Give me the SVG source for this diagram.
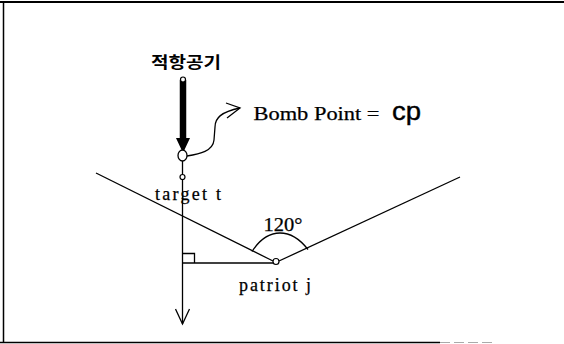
<svg xmlns="http://www.w3.org/2000/svg" width="564" height="344" viewBox="0 0 564 344">
<style>
.ln{fill:none;stroke:#000;stroke-width:1.3}
.tx{font-family:"Liberation Serif","DejaVu Serif",serif;fill:#000;stroke:#000;stroke-width:0.25}
.ko{font-family:"Noto Sans CJK KR",sans-serif;font-weight:bold;fill:#000}
.sn{font-family:"Liberation Sans",Arial,sans-serif;fill:#000;stroke:#000;stroke-width:0.4}
</style>
<defs>
<marker id="vhead" markerWidth="16" markerHeight="20" refX="8" refY="17" orient="0" markerUnits="userSpaceOnUse">
<path d="M1,2 L8,17 L15,2" fill="none" stroke="#000" stroke-width="1.3"/>
</marker>
</defs>
<rect width="564" height="344" fill="#fff"/>
<g id="frame">
<line x1="0" y1="2" x2="564" y2="2" stroke="#000" stroke-width="2"/>
<line x1="3.5" y1="2" x2="3.5" y2="343" stroke="#000" stroke-width="1.5"/>
<line x1="0" y1="342.5" x2="440" y2="342.5" stroke="#000" stroke-width="1.5"/>
<line x1="440" y1="342.5" x2="495" y2="342.5" stroke="#aaa" stroke-width="1" stroke-dasharray="10 4"/>
</g>
<g id="connectors">
<line x1="183" y1="80" x2="183" y2="140" stroke="#000" stroke-width="6.5"/>
<path d="M176,138 L190,138 L183,153 Z" fill="#000"/>
<line class="ln" x1="182.5" y1="160" x2="182.5" y2="324" marker-end="url(#vhead)"/>
<path class="ln" d="M187,156 C200,154 213,151 214,140 L215,127 C215,118 221,112 240,108"/>
<path class="ln" d="M226,103 L240,108 L227,118"/>
<line class="ln" x1="96" y1="173" x2="273" y2="261"/>
<line class="ln" x1="279" y1="261" x2="460" y2="177"/>
<line class="ln" x1="182.5" y1="263" x2="273" y2="263"/>
<path class="ln" d="M182.5,253.5 L194.5,253.5 L194.5,263"/>
<path class="ln" d="M252,251.5 C262,236 272,233 280,233 C289,233 299,238 308,249.5"/>
</g>
<g id="aircraft">
<circle cx="183" cy="79.5" r="2.5" fill="#fff" stroke="#000" stroke-width="1.2"/>
<text class="ko" x="186" y="68" font-size="15.5" text-anchor="middle" textLength="70" lengthAdjust="spacingAndGlyphs">적항공기</text>
</g>
<g id="bomb-point">
<ellipse cx="182.5" cy="155.5" rx="4.5" ry="5.5" fill="#fff" stroke="#000" stroke-width="1.3"/>
<text class="tx" x="253.5" y="120" font-size="19" textLength="126" lengthAdjust="spacingAndGlyphs">Bomb Point =</text>
<text class="sn" x="392" y="120" font-size="26" textLength="29" lengthAdjust="spacingAndGlyphs">cp</text>
</g>
<g id="target">
<circle cx="182.5" cy="177" r="2.5" fill="#fff" stroke="#000" stroke-width="1.2"/>
<text class="tx" x="155" y="200" font-size="18" textLength="66" lengthAdjust="spacing">target t</text>
</g>
<g id="patriot">
<circle cx="276" cy="261.5" r="3" fill="#fff" stroke="#000" stroke-width="1.2"/>
<text class="tx" x="239" y="291" font-size="18" textLength="72" lengthAdjust="spacing">patriot j</text>
</g>
<g id="angle">
<text class="tx" x="263.5" y="230.5" font-size="19" textLength="39" lengthAdjust="spacingAndGlyphs">120°</text>
</g>
</svg>
